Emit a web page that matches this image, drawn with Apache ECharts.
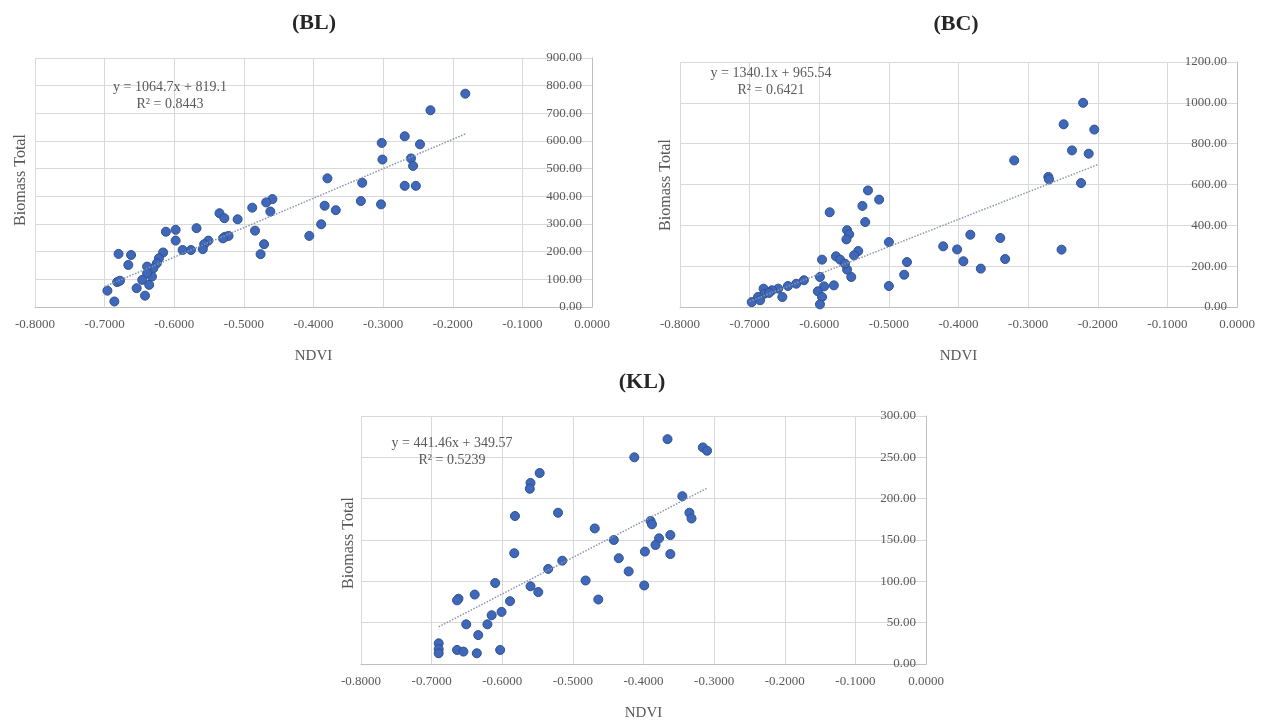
<!DOCTYPE html>
<html>
<head>
<meta charset="utf-8">
<script src="https://cdn.jsdelivr.net/npm/echarts@6/dist/echarts.min.js"></script>
<style>
  html, body { margin: 0; padding: 0; background: #fff; }
  #main { width: 1268px; height: 722px; }
</style>
</head>
<body>
<div id="main"></div>
<script>
// BL panel
var blNdvi = [-0.182, -0.232, -0.302, -0.269, -0.247, -0.301, -0.260, -0.257, -0.269, -0.253, -0.330, -0.332, -0.303, -0.380, -0.384, -0.368, -0.389, -0.406, -0.459, -0.468, -0.462, -0.488, -0.484, -0.471, -0.476, -0.535, -0.528, -0.509, -0.527, -0.522, -0.530, -0.551, -0.557, -0.559, -0.568, -0.576, -0.588, -0.598, -0.612, -0.598, -0.616, -0.622, -0.625, -0.630, -0.632, -0.639, -0.639, -0.646, -0.654, -0.642, -0.662, -0.666, -0.680, -0.682, -0.696, -0.686, -0.678, -0.636];
var blBiomass = [771, 711, 593, 617, 588, 533, 537, 510, 438, 438, 449, 383, 371, 465, 366, 350, 299, 257, 390, 378, 345, 359, 276, 227, 191, 339, 321, 317, 254, 257, 248, 240, 227, 209, 285, 206, 206, 279, 272, 240, 197, 176, 158, 140, 110, 146, 122, 98, 68, 41, 188, 152, 192, 90, 59, 20, 95, 80];
var blTrend = [[-0.70, 73.8], [-0.18, 627.5]];

// BC panel
var bcNdvi = [-0.221, -0.249, -0.205, -0.237, -0.213, -0.320, -0.271, -0.270, -0.224, -0.252, -0.340, -0.333, -0.383, -0.422, -0.402, -0.393, -0.368, -0.500, -0.500, -0.478, -0.474, -0.530, -0.514, -0.538, -0.534, -0.560, -0.557, -0.561, -0.544, -0.550, -0.576, -0.570, -0.560, -0.554, -0.563, -0.585, -0.596, -0.599, -0.579, -0.593, -0.602, -0.596, -0.599, -0.622, -0.633, -0.645, -0.659, -0.668, -0.653, -0.680, -0.679, -0.688, -0.685, -0.697, -0.672];
var bcBiomass = [1000, 895, 869, 767, 751, 718, 637, 625, 607, 281, 338, 235, 354, 297, 282, 224, 188, 318, 103, 158, 220, 571, 526, 495, 416, 376, 356, 331, 274, 253, 248, 232, 183, 147, 212, 464, 232, 147, 106, 101, 77, 49, 13, 131, 114, 103, 90, 82, 49, 90, 65, 49, 33, 24, 69];
var bcTrend = [[-0.70, 27.5], [-0.20, 697.5]];

// KL panel
var klNdvi = [-0.366, -0.413, -0.316, -0.310, -0.345, -0.335, -0.332, -0.390, -0.388, -0.362, -0.378, -0.383, -0.362, -0.398, -0.442, -0.435, -0.421, -0.399, -0.469, -0.482, -0.464, -0.547, -0.560, -0.561, -0.521, -0.582, -0.583, -0.515, -0.535, -0.560, -0.549, -0.610, -0.589, -0.601, -0.615, -0.621, -0.634, -0.639, -0.662, -0.664, -0.651, -0.690, -0.690, -0.690, -0.664, -0.655, -0.636, -0.603];
var klBiomass = [272, 250, 262, 258, 203, 183, 176, 173, 169, 156, 152, 144, 133, 136, 150, 128, 112, 95, 164, 101, 78, 231, 219, 212, 183, 179, 134, 125, 115, 94, 87, 98, 76, 63, 59, 48, 35, 84, 79, 77, 48, 25, 18, 13, 17, 15, 13, 17];
var klTrend = [[-0.69, 45.0], [-0.31, 212.7]];

var FONT = '"Liberation Serif", "DejaVu Serif", serif';
var GREY = '#595959';

function zip(xs, ys) {
  var out = [];
  for (var i = 0; i < xs.length; i++) out.push([xs[i], ys[i]]);
  return out;
}

function makeX(idx) {
  return {
    type: 'value', gridIndex: idx, min: -0.8, max: 0, interval: 0.1,
    axisLine: { show: true, onZero: false, lineStyle: { color: '#bfbfbf' } },
    axisTick: { show: false },
    splitLine: { show: true, lineStyle: { color: '#d9d9d9' } },
    axisLabel: {
      margin: 11, fontFamily: FONT, fontSize: 13, color: GREY,
      formatter: function (v) { return Math.abs(v) < 1e-9 ? '0.0000' : v.toFixed(4); }
    },
    name: 'NDVI', nameLocation: 'middle', nameGap: 42,
    nameTextStyle: { fontFamily: FONT, fontSize: 15, color: GREY }
  };
}

function makeY(idx, max, step) {
  return {
    type: 'value', gridIndex: idx, position: 'right', min: 0, max: max, interval: step,
    axisLine: { show: true, onZero: false, lineStyle: { color: '#bfbfbf' } },
    axisTick: { show: false },
    splitLine: { show: true, lineStyle: { color: '#d9d9d9' } },
    axisLabel: {
      inside: true, margin: 10, fontFamily: FONT, fontSize: 13, color: GREY,
      formatter: function (v) { return v.toFixed(2); }
    }
  };
}

function dots(idx, data) {
  return {
    type: 'scatter', xAxisIndex: idx, yAxisIndex: idx, data: data,
    symbolSize: 9,
    itemStyle: { color: '#3f68ba', borderColor: '#2f528f', borderWidth: 1, opacity: 1 },
    z: 3
  };
}

function trend(idx, data) {
  return {
    type: 'line', xAxisIndex: idx, yAxisIndex: idx, data: data,
    symbol: 'none', silent: true,
    lineStyle: { color: '#8a96ac', width: 1.5, type: 'dotted' },
    z: 4
  };
}

function txt(x, y, s, size, bold, rot) {
  return {
    type: 'text', x: x, y: y, rotation: rot || 0,
    style: {
      text: s, fill: bold ? '#262626' : GREY,
      font: (bold ? 'bold ' : '') + size + 'px ' + FONT,
      align: 'center', verticalAlign: 'middle', lineHeight: size + 3
    },
    z: 10
  };
}

var chart = echarts.init(document.getElementById('main'));

var option = {
  animation: false,
  backgroundColor: '#ffffff',
  grid: [
    { left: 35, top: 58, width: 557, height: 249 },
    { left: 680, top: 62, width: 557, height: 245 },
    { left: 361, top: 416, width: 565, height: 251 }
  ],
  xAxis: [makeX(0), makeX(1), makeX(2)],
  yAxis: [makeY(0, 900, 100), makeY(1, 1200, 200), makeY(2, 300, 50)],
  series: [
    dots(0, zip(blNdvi, blBiomass)), trend(0, blTrend),
    dots(1, zip(bcNdvi, bcBiomass)), trend(1, bcTrend),
    dots(2, zip(klNdvi, klBiomass)), trend(2, klTrend)
  ],
  graphic: [
    txt(314, 23, '(BL)', 22, true),
    txt(956, 24, '(BC)', 22, true),
    txt(642, 382, '(KL)', 22, true),
    txt(21, 180, 'Biomass Total', 16, false, Math.PI / 2),
    txt(666, 185, 'Biomass Total', 16, false, Math.PI / 2),
    txt(349, 543, 'Biomass Total', 16, false, Math.PI / 2),
    txt(170, 96, 'y = 1064.7x + 819.1\nR² = 0.8443', 14, false),
    txt(771, 82, 'y = 1340.1x + 965.54\nR² = 0.6421', 14, false),
    txt(452, 452, 'y = 441.46x + 349.57\nR² = 0.5239', 14, false)
  ]
};

chart.setOption(option);
</script>
</body>
</html>
